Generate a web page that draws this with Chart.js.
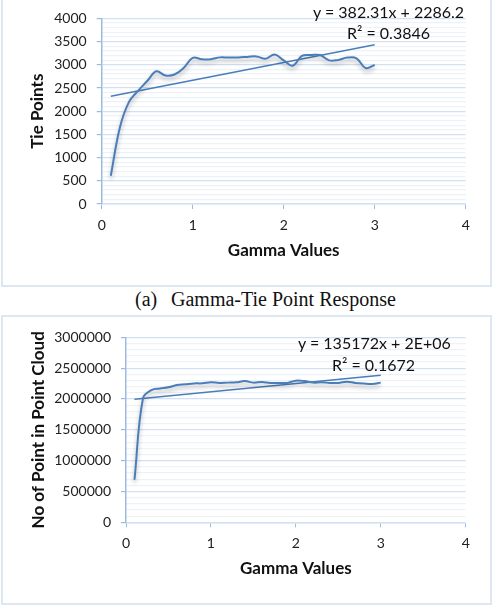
<!DOCTYPE html>
<html>
<head>
<meta charset="utf-8">
<script src="https://cdn.jsdelivr.net/npm/chart.js@4.4.0/dist/chart.umd.min.js"></script>
<style>
  html, body { margin: 0; padding: 0; background: #fff; }
  body { width: 497px; height: 609px; position: relative; overflow: hidden; }
  .box { position: absolute; border: 2px solid #dde7f2; box-sizing: border-box; }
  .wrap { position: absolute; }
  .eq { position: absolute; font-family: Lato, sans-serif; font-size: 16px; color: #111; white-space: nowrap; }
  .cap { position: absolute; font-family: "Liberation Serif", serif; font-size: 20px; color: #111; white-space: nowrap; }
</style>
</head>
<body>
<div class="box" style="left:1px; top:-4px; width:491px; height:291px;"></div>
<div class="box" style="left:1px; top:315px; width:491px; height:290px;"></div>

<div class="wrap" style="left:0; top:0; width:492px; height:286px;"><canvas id="tieChart"></canvas></div>
<div class="wrap" style="left:0; top:316px; width:492px; height:288px;"><canvas id="cloudChart"></canvas></div>

<div class="eq" style="left:313px; top:2px;">y = 382.31x + 2286.2</div>
<div class="eq" style="left:347px; top:23px;">R² = 0.3846</div>
<div class="eq" style="left:298px; top:333px;">y = 135172x + 2E+06</div>
<div class="eq" style="left:332px; top:355px;">R² = 0.1672</div>

<div class="cap" style="left:135px; top:288px;">(a)</div>
<div class="cap" style="left:171px; top:288px;">Gamma-Tie Point Response</div>

<script>
// gamma values on the x axis (same for both charts)
const gamma = [0.1, 0.2, 0.3, 0.4, 0.5, 0.6, 0.7, 0.8, 0.9, 1.0,
               1.1, 1.2, 1.3, 1.4, 1.5, 1.6, 1.7, 1.8, 1.9, 2.0,
               2.1, 2.2, 2.3, 2.4, 2.5, 2.6, 2.7, 2.8, 2.9, 3.0];

// tie points per gamma value
const tiePoints = [610, 1650, 2200, 2440, 2650, 2860, 2770, 2790, 2930, 3150,
                   3120, 3120, 3160, 3155, 3160, 3170, 3180, 3130, 3220, 3095,
                   2980, 3190, 3210, 3210, 3095, 3105, 3155, 3140, 2930, 2995];

// points in point cloud per gamma value
const cloudPoints = [690000, 2010000, 2145000, 2170000, 2190000, 2225000, 2238000, 2252000, 2254000, 2270000,
                     2260000, 2265000, 2270000, 2290000, 2265000, 2276000, 2260000, 2260000, 2260000, 2297000,
                     2290000, 2265000, 2270000, 2260000, 2260000, 2280000, 2260000, 2249000, 2244000, 2265000];

// linear trendlines (slope, intercept) as labelled in the figure
const tieTrend = { slope: 382.31, intercept: 2286.2 };
const cloudTrend = { slope: 135172, intercept: 1980000 };

const xTicks = [0, 1, 2, 3, 4];

const lineBlue = '#4a7ebb';
const axisBlue = '#9dbbe0';
const majorGrid = '#d3e0f1';
const minorGrid = '#edf2f9';
const tickFont = { family: 'Lato, sans-serif', size: 14 };
const titleFont = { family: 'Lato, sans-serif', size: 17, weight: 'bold' };

// soft shadow under the data line, like the office chart style
const lineShadow = {
  id: 'lineShadow',
  beforeDatasetDraw(chart, args) {
    if (args.index !== 0) return;
    chart.ctx.save();
    chart.ctx.shadowColor = 'rgba(0, 0, 0, 0.3)';
    chart.ctx.shadowBlur = 4;
    chart.ctx.shadowOffsetY = 3;
  },
  afterDatasetDraw(chart, args) {
    if (args.index !== 0) return;
    chart.ctx.restore();
  }
};

function trendData(trend) {
  const x0 = gamma[0], x1 = gamma[gamma.length - 1];
  return [
    { x: x0, y: trend.slope * x0 + trend.intercept },
    { x: x1, y: trend.slope * x1 + trend.intercept }
  ];
}

function buildChart(id, values, trend, cfg) {
  const ctx = document.getElementById(id);
  return new Chart(ctx, {
    type: 'line',
    data: {
      datasets: [
        {
          data: gamma.map((g, i) => ({ x: g, y: values[i] })),
          borderColor: lineBlue,
          borderWidth: 2,
          pointRadius: 0,
          tension: 0.4,
          fill: false
        },
        {
          data: trendData(trend),
          borderColor: lineBlue,
          borderWidth: 1.5,
          pointRadius: 0,
          tension: 0,
          fill: false
        }
      ]
    },
    plugins: [lineShadow],
    options: {
      responsive: true,
      maintainAspectRatio: false,
      animation: false,
      layout: { padding: cfg.padding },
      plugins: { legend: { display: false }, tooltip: { enabled: false } },
      scales: {
        x: {
          type: 'linear',
          min: 0,
          max: 4,
          afterFit: s => { s.height = cfg.xHeight; },
          afterBuildTicks: s => { s.ticks = xTicks.map(v => ({ value: v })); },
          grid: { drawOnChartArea: false, color: axisBlue, tickLength: 5 },
          border: { color: majorGrid, width: 1.5 },
          ticks: { font: tickFont, color: '#222', padding: 8, maxRotation: 0 },
          title: { display: true, text: 'Gamma Values', font: titleFont, color: '#111' }
        },
        y: {
          min: 0,
          max: cfg.max,
          afterFit: s => { s.width = cfg.yWidth; },
          grid: {
            tickLength: 5,
            color: c => (c.tick && c.tick.value % cfg.major === 0) ? majorGrid : minorGrid,
            tickColor: c => (c.tick && c.tick.value % cfg.major === 0) ? axisBlue : 'rgba(0,0,0,0)',
            lineWidth: 1.2
          },
          border: { color: axisBlue, width: 1.5 },
          ticks: {
            stepSize: cfg.minor,
            maxTicksLimit: 60,
            autoSkip: false,
            font: tickFont,
            color: '#222',
            padding: 10,
            callback: v => (v % cfg.major === 0) ? String(v) : ''
          },
          title: { display: true, text: cfg.yTitle, font: titleFont, color: '#111' }
        }
      }
    }
  });
}

buildChart('tieChart', tiePoints, tieTrend, {
  padding: { left: 23.8, right: 26.3, top: 14.3, bottom: 20.8 },
  xHeight: 61.2, yWidth: 77.9,
  max: 4000, major: 500, minor: 100,
  yTitle: 'Tie Points'
});

buildChart('cloudChart', cloudPoints, cloudTrend, {
  padding: { left: 24.1, right: 26.3, top: 21.3, bottom: 21.5 },
  xHeight: 60.2, yWidth: 101.9,
  max: 3000000, major: 500000, minor: 100000,
  yTitle: 'No of Point in Point Cloud'
});
</script>
</body>
</html>
